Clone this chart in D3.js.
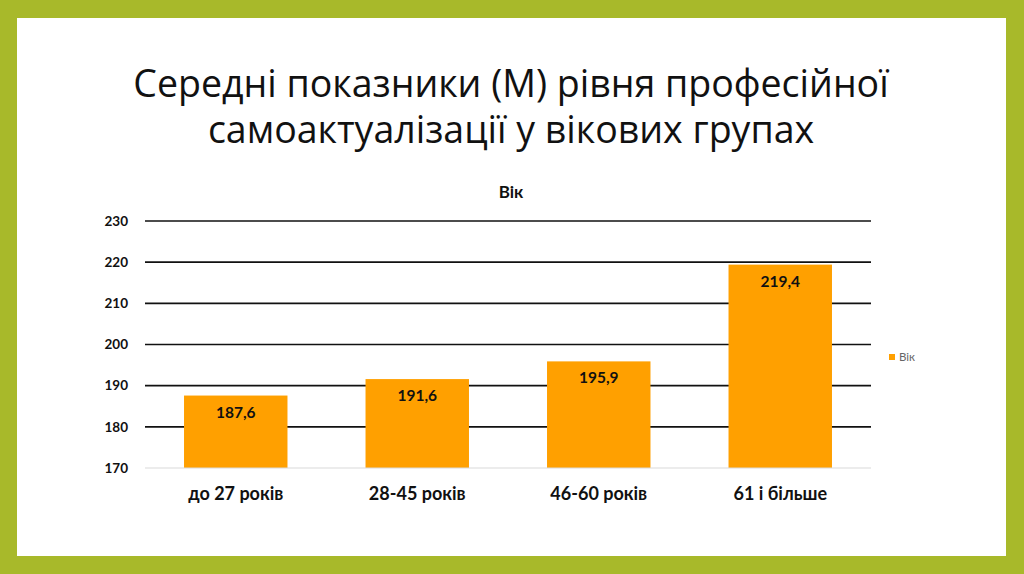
<!DOCTYPE html>
<html>
<head>
<meta charset="utf-8">
<script src="https://cdn.jsdelivr.net/npm/d3@7"></script>
<style>
  body { margin: 0; background: #fff; }
  svg { display: block; }
</style>
</head>
<body>
<div id="chart"></div>
<script>
var categories = ["до 27 років", "28-45 років", "46-60 років", "61 і більше"];
var values = [187.6, 191.6, 195.9, 219.4];
var yTicks = [170, 180, 190, 200, 210, 220, 230];
var seriesName = "Вік";
var titleLines = ["Середні показники (М) рівня професійної", "самоактуалізації у вікових групах"];

var svgWidth = 1024;
var svgHeight = 574;

var svg = d3.select("#chart")
  .append("svg")
  .attr("width", svgWidth)
  .attr("height", svgHeight);

// green frame
svg.append("rect")
  .attr("width", svgWidth)
  .attr("height", svgHeight)
  .attr("fill", "#a8b92a");

svg.append("rect")
  .attr("x", 17)
  .attr("y", 18)
  .attr("width", 1006 - 17)
  .attr("height", 556 - 18)
  .attr("fill", "#fff");

// slide title
svg.append("g").selectAll("text")
  .data(titleLines)
  .enter()
  .append("text")
  .attr("x", 511)
  .attr("y", (d, i) => 97 + i * 46)
  .attr("text-anchor", "middle")
  .style("font-family", "'Open Sans', sans-serif")
  .style("font-size", "37.5px")
  .attr("fill", "#111")
  .text(d => d);

var margin = { top: 221, left: 145 };
var width = 871 - 145;
var height = 468 - 221;

var chartGroup = svg.append("g")
  .attr("transform", `translate(${margin.left}, ${margin.top})`);

var xScale = d3.scaleBand()
  .domain(categories)
  .range([0, width])
  .paddingInner(0.43)
  .paddingOuter(0.215);

var yScale = d3.scaleLinear()
  .domain([170, 230])
  .range([height, 0]);

// gridlines
chartGroup.selectAll(".grid")
  .data(yTicks.slice(1))
  .enter()
  .append("line")
  .attr("x1", 0)
  .attr("x2", width)
  .attr("y1", d => yScale(d))
  .attr("y2", d => yScale(d))
  .attr("stroke", "#111")
  .attr("stroke-width", 1.6);

// bars
chartGroup.selectAll(".bar")
  .data(values)
  .enter()
  .append("rect")
  .attr("x", (d, i) => xScale(categories[i]))
  .attr("y", d => yScale(d))
  .attr("width", xScale.bandwidth())
  .attr("height", d => height - yScale(d))
  .attr("fill", "#ffa000");

// base line
chartGroup.append("line")
  .attr("x1", 0)
  .attr("x2", width)
  .attr("y1", height)
  .attr("y2", height)
  .attr("stroke", "#d9d9d9")
  .attr("stroke-width", 1.2);

// value labels
chartGroup.selectAll(".val")
  .data(values)
  .enter()
  .append("text")
  .attr("x", (d, i) => xScale(categories[i]) + xScale.bandwidth() / 2)
  .attr("y", d => yScale(d) + 22)
  .attr("text-anchor", "middle")
  .style("font-family", "Lato, sans-serif")
  .style("font-weight", "bold")
  .style("font-size", "15.5px")
  .attr("fill", "#111")
  .text(d => String(d).replace(".", ","));

// y axis
var leftAxis = d3.axisLeft(yScale)
  .tickValues(yTicks)
  .tickSize(0)
  .tickPadding(17);

var yAxis = chartGroup.append("g").call(leftAxis);
yAxis.select(".domain").remove();
yAxis.selectAll("text")
  .style("font-family", "Lato, sans-serif")
  .style("font-weight", "bold")
  .style("font-size", "13.5px")
  .attr("fill", "#111");

// x axis
var bottomAxis = d3.axisBottom(xScale)
  .tickSize(0)
  .tickPadding(19);

var xAxis = chartGroup.append("g")
  .attr("transform", `translate(0, ${height})`)
  .call(bottomAxis);
xAxis.select(".domain").remove();
xAxis.selectAll("text")
  .style("font-family", "Lato, sans-serif")
  .style("font-weight", "bold")
  .style("font-size", "18px")
  .attr("fill", "#111");

// chart title
svg.append("text")
  .attr("x", 511)
  .attr("y", 198)
  .attr("text-anchor", "middle")
  .style("font-family", "Lato, sans-serif")
  .style("font-weight", "bold")
  .style("font-size", "17px")
  .attr("fill", "#111")
  .text(seriesName);

// legend
var legend = svg.append("g")
  .attr("transform", "translate(889, 358)");

legend.append("rect")
  .attr("x", 0)
  .attr("y", -4)
  .attr("width", 6)
  .attr("height", 6)
  .attr("fill", "#ffa000");

legend.append("text")
  .attr("x", 10)
  .attr("y", 3)
  .style("font-family", "Lato, sans-serif")
  .style("font-size", "11.5px")
  .attr("fill", "#666")
  .text(seriesName);
</script>
</body>
</html>
